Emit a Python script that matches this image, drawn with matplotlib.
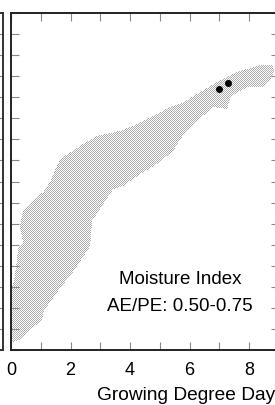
import numpy as np
import matplotlib.pyplot as plt
from matplotlib.path import Path

plt.rcParams['font.family'] = ['Liberation Sans', 'DejaVu Sans']

# outline of the gray point cloud (growing degree days, y units)
cloud_x = [0.10, 0.37, 0.64, 1.04, 1.08, 1.55, 2.08, 2.66, 2.72, 2.99, 3.43, 3.76,
           4.44, 4.91, 5.45, 5.68, 6.25, 6.79, 7.26, 7.36, 7.93, 8.44, 8.71, 8.84,
           8.77, 8.37, 7.60, 6.92, 6.35, 5.68, 5.34, 4.91, 4.24, 3.66, 2.89, 2.42,
           1.65, 1.31, 1.08, 0.54, 0.40, 0.30, 0.40, 0.24, 0.13, 0.03, 0.00]
cloud_y = [0.38, 0.52, 1.00, 1.38, 1.80, 2.75, 3.70, 4.94, 6.13, 6.70, 7.64, 7.79,
           8.45, 8.83, 9.45, 10.02, 10.87, 11.54, 11.44, 12.01, 12.49, 12.49, 12.87, 13.25,
           13.53, 13.53, 13.20, 12.73, 12.25, 11.68, 11.54, 11.21, 10.73, 10.40, 10.16, 9.78,
           9.07, 7.98, 7.50, 6.84, 6.60, 5.89, 5.13, 4.80, 3.51, 2.90, 0.52]

# highlighted sites
site_x = [6.99, 7.29]
site_y = [12.39, 12.68]

x_ticks = list(range(0, 10))
x_labels = ['0', '', '2', '', '4', '', '6', '', '8', '']
y_ticks = list(range(0, 17))

W, H = 275, 406
fig = plt.figure(figsize=(W / 100, H / 100), dpi=100)

# neighbouring panel (only its right edge is visible)
ax0 = fig.add_axes([-0.5, 55 / H, 0.5 + 2.5 / W, 337 / H])
ax0.set_xlim(0, 1)
ax0.set_ylim(0, 16)
ax0.set_yticks(y_ticks)
ax0.set_xticks([])
ax0.tick_params(axis='y', direction='in', left=False, right=True, labelleft=False,
                length=5, color='#888888', width=0.8)
for s in ax0.spines.values():
    s.set_color('#333333')
    s.set_linewidth(1.4)

ax = fig.add_axes([11 / W, 55 / H, 268 / W, 337 / H])
ax.set_xlim(0, 9)
ax.set_ylim(0, 16)

# checkered gray texture (one dot every other pixel) inside the cloud outline
cloud = ax.transData.transform_path(Path(np.column_stack([cloud_x, cloud_y])))
ii, jj = np.mgrid[0:H, 0:W]
centers = np.column_stack([jj.ravel() + 0.5, ii.ravel() + 0.5])
inside = cloud.contains_points(centers).reshape(H, W)
tex = np.zeros((H, W, 4))
tex[inside & ((ii + jj) % 2 == 0)] = [0.68, 0.68, 0.68, 1.0]
fig.figimage(tex, xo=0, yo=0, origin='lower', zorder=1)

ax.patch.set_alpha(0)
ax.set_zorder(2)
ax.scatter(site_x, site_y, s=16, color='black', zorder=3)

ax.set_xticks(x_ticks)
ax.set_xticklabels(x_labels)
ax.set_yticks(y_ticks)
ax.set_yticklabels([])
ax.tick_params(direction='in', top=True, right=True, length=6, width=0.8,
               color='#888888', labelsize=13, pad=8)
for s in ax.spines.values():
    s.set_color('#222222')
    s.set_linewidth(1.4)

ax.text(0.631, 0.199, 'Moisture Index', transform=ax.transAxes,
        ha='center', va='baseline', fontsize=13.5)
ax.text(0.631, 0.119, 'AE/PE: 0.50-0.75', transform=ax.transAxes,
        ha='center', va='baseline', fontsize=13.5)

fig.text(97 / W, 6 / H, 'Growing Degree Day', ha='left', va='baseline', fontsize=13.8)

fig.savefig('out.png', dpi=100)
